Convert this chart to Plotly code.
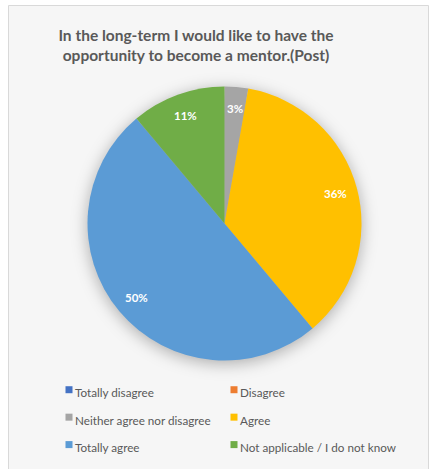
import math
import plotly.graph_objects as go

categories = ["Totally disagree", "Disagree", "Neither agree nor disagree",
              "Agree", "Totally agree", "Not applicable / I do not know"]
counts = [0, 0, 1, 13, 18, 4]
colors = ["#4472C4", "#ED7D31", "#A5A5A5", "#FFC000", "#5B9BD5", "#70AD47"]
title_text = "In the long-term I would like to have the<br>opportunity to become a mentor.(Post)"

W, H = 432, 469
FONT = "Lato, Calibri, Carlito, sans-serif"

legend_labels = ["<span style='font-size:11.7px'>%s</span>" % c for c in categories]

# pie geometry in pixels (centre and radius)
cx, cy, R = 224.5, 223.5, 137

fig = go.Figure(go.Pie(
    labels=legend_labels,
    values=counts,
    marker=dict(colors=colors, line=dict(color="white", width=0)),
    sort=False,
    direction="clockwise",
    rotation=0,
    textinfo="none",
    hoverinfo="label+percent",
    domain=dict(x=[(cx - R) / W, (cx + R) / W], y=[1 - (cy + R) / H, 1 - (cy - R) / H]),
))

# data labels placed along each slice's mid-angle (Excel style, ~0.84 R)
total = sum(counts)
annotations = []
cum = 0
for v in counts:
    if v > 0:
        mid = (cum + v / 2) / total * 2 * math.pi
        px = cx + 0.84 * R * math.sin(mid)
        py = cy - 0.84 * R * math.cos(mid)
        annotations.append(dict(
            x=px / W, y=1 - py / H, xref="paper", yref="paper", showarrow=False,
            xanchor="center", yanchor="middle",
            text="%d%%" % round(100 * v / total),
            font=dict(family=FONT, size=11.5, color="white", weight="bold")))
    cum += v

fig.update_layout(
    width=W, height=H,
    margin=dict(l=0, r=0, t=0, b=0),
    paper_bgcolor="white",
    title=dict(text=title_text, x=196 / W, xanchor="center", y=1 - 41 / H, yanchor="top",
               font=dict(family=FONT, size=15.5, color="#595959", weight="bold")),
    legend=dict(orientation="h", x=35 / W, xanchor="left", y=1 - 371 / H, yanchor="top",
                entrywidth=120, entrywidthmode="pixels",
                font=dict(family=FONT, size=18.8, color="#595959"),
                bgcolor="rgba(0,0,0,0)"),
    annotations=annotations,
    shapes=[dict(type="rect", xref="paper", yref="paper", x0=8.5 / W, x1=428.5 / W,
                 y0=-0.05, y1=1 - 5.5 / H, line=dict(color="#D9D9D9", width=1),
                 fillcolor="#F6F6F6", layer="below")],
)

post = ("document.body.style.margin='0';"
        "document.querySelectorAll('.legend .scrollbox').forEach(function(e){"
        "e.removeAttribute('clip-path');});"
        "document.querySelectorAll('.legend .legendpoints path.legendpie').forEach(function(p){"
        "p.setAttribute('d','M17.5,3.5H10.5V-3.5H17.5Z');});"
        "document.querySelectorAll('.pielayer .trace').forEach(function(g){"
        "g.setAttribute('style','filter: drop-shadow(0px 3px 8px rgba(0,0,0,0.3));');});")

fig.write_html("out.html", config={"displayModeBar": False}, post_script=post)
